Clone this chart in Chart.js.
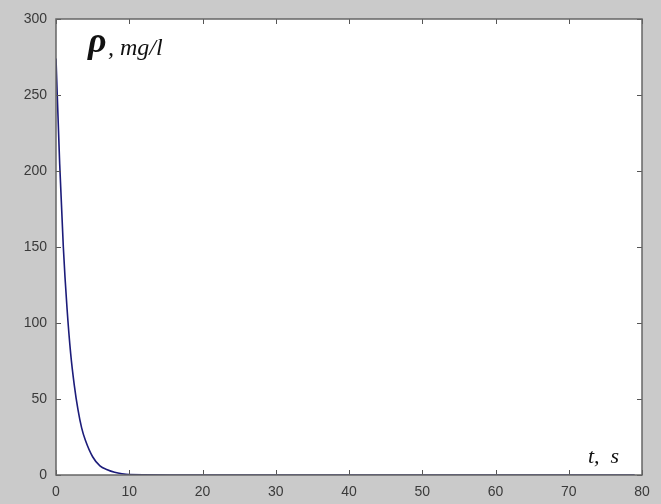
<!DOCTYPE html>
<html>
<head>
<meta charset="utf-8">
<script src="https://cdn.jsdelivr.net/npm/chart.js@4/dist/chart.umd.min.js"></script>
<style>
  html, body { margin: 0; padding: 0; background: #cacaca; }
  #wrap { width: 661px; height: 504px; }
</style>
</head>
<body>
<div id="wrap"><canvas id="myChart" width="661" height="504"></canvas></div>
<script>
// time, s
var times = [0, 0.5, 1, 1.5, 2, 2.5, 3, 3.5, 4, 5, 6, 7, 8, 9, 10, 20, 30, 40, 50, 60, 70, 79];
// density, mg/l
var rho = [274, 205, 150, 110, 80, 59, 43, 31, 23, 12, 6, 3.5, 1.8, 0.8, 0.3, 0, 0, 0, 0, 0, 0, 0];

var xTicks = [0, 10, 20, 30, 40, 50, 60, 70, 80];
var yTicks = [0, 50, 100, 150, 200, 250, 300];

var points = times.map(function (t, i) { return { x: t, y: rho[i] }; });

// Background, frame, inward ticks and the text labels inside the axes
var frame = {
    id: 'frame',
    beforeDraw: function (chart) {
        var ctx = chart.ctx;
        var a = chart.chartArea;
        ctx.save();
        ctx.fillStyle = '#cacaca';
        ctx.fillRect(0, 0, chart.width, chart.height);
        ctx.fillStyle = '#ffffff';
        ctx.fillRect(a.left, a.top, a.right - a.left, a.bottom - a.top);
        ctx.restore();
    },
    afterDatasetsDraw: function (chart) {
        var ctx = chart.ctx;
        var a = chart.chartArea;
        var xs = chart.scales.x;
        var ys = chart.scales.y;
        var len = 5;
        ctx.save();
        ctx.strokeStyle = '#555555';
        ctx.lineWidth = 1;
        ctx.beginPath();
        xTicks.forEach(function (v) {
            var px = Math.round(xs.getPixelForValue(v)) + 0.5;
            ctx.moveTo(px, a.bottom); ctx.lineTo(px, a.bottom - len);
            ctx.moveTo(px, a.top); ctx.lineTo(px, a.top + len);
        });
        yTicks.forEach(function (v) {
            var py = Math.round(ys.getPixelForValue(v)) + 0.5;
            ctx.moveTo(a.left, py); ctx.lineTo(a.left + len, py);
            ctx.moveTo(a.right, py); ctx.lineTo(a.right - len, py);
        });
        ctx.stroke();
        ctx.strokeStyle = '#666666';
        ctx.lineWidth = 1.5;
        ctx.strokeRect(a.left, a.top, a.right - a.left, a.bottom - a.top);

        ctx.fillStyle = '#111111';
        ctx.textBaseline = 'alphabetic';
        ctx.font = 'italic bold 36px "Liberation Serif"';
        ctx.fillText('\u03C1', 88, 52);
        ctx.font = 'italic 24px "Liberation Serif"';
        ctx.fillText(', mg/l', 108, 55);
        ctx.font = 'italic 22px "Liberation Serif"';
        ctx.fillText('t,  s', 588, 463);
        ctx.restore();
    }
};

var ctx = document.getElementById('myChart').getContext('2d');
var myChart = new Chart(ctx, {
    type: 'line',
    data: {
        datasets: [{
            data: points,
            borderColor: '#1c1c7a',
            borderWidth: 1.6,
            pointRadius: 0,
            fill: false,
            cubicInterpolationMode: 'monotone'
        }]
    },
    options: {
        responsive: false,
        animation: false,
        layout: { padding: { top: 19, right: 19, left: 0, bottom: 0 } },
        plugins: { legend: { display: false }, tooltip: { enabled: false } },
        scales: {
            x: {
                type: 'linear',
                min: 0,
                max: 80,
                afterFit: function (s) { s.height = 29; },
                afterBuildTicks: function (s) { s.ticks = xTicks.map(function (v) { return { value: v }; }); },
                grid: { display: false, drawTicks: false },
                border: { display: false },
                ticks: { padding: 9, color: '#3a3a3a', font: { family: 'Liberation Sans', size: 14 } }
            },
            y: {
                min: 0,
                max: 300,
                afterFit: function (s) { s.width = 56; },
                afterBuildTicks: function (s) { s.ticks = yTicks.map(function (v) { return { value: v }; }); },
                grid: { display: false, drawTicks: false },
                border: { display: false },
                ticks: { padding: 9, color: '#3a3a3a', font: { family: 'Liberation Sans', size: 14 } }
            }
        }
    },
    plugins: [frame]
});
</script>
</body>
</html>
